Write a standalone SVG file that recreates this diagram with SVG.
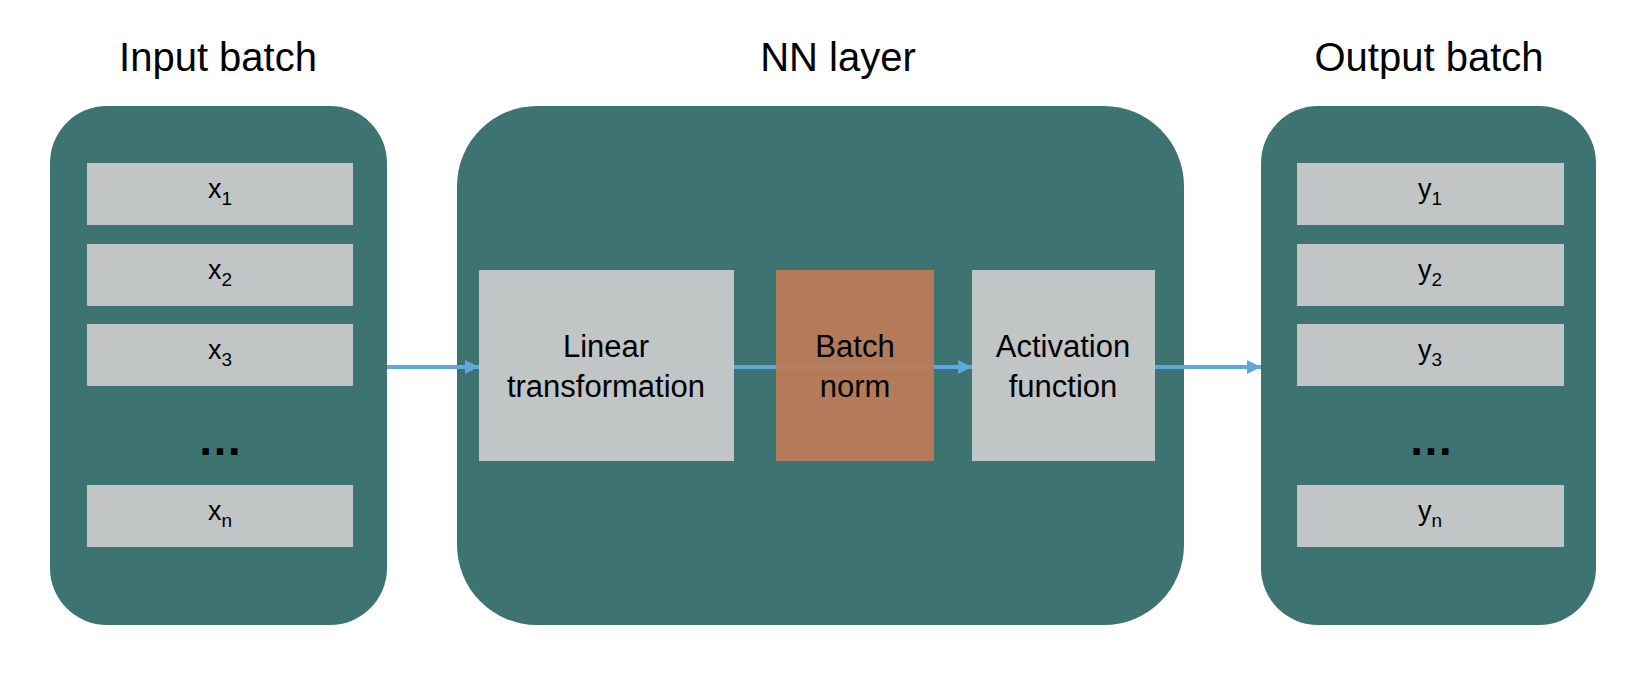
<svg xmlns="http://www.w3.org/2000/svg" width="1646" height="674" viewBox="0 0 1646 674">
<style>
  .panel { fill: #3D7471; }
  .item { fill: #C1C5C6; }
  .bn { fill: #B87C5A; fill-opacity: 0.96; }
  .title { font-family: "Liberation Sans", Arial, sans-serif; font-size: 40px; fill: #000; text-anchor: middle; }
  .lbl { font-family: "Liberation Sans", Arial, sans-serif; font-size: 27px; fill: #000; text-anchor: middle; }
  .sub { font-size: 19px; }
  .box { font-family: "Liberation Sans", Arial, sans-serif; font-size: 31px; fill: #000; text-anchor: middle; }
  .dots { font-family: "Liberation Sans", Arial, sans-serif; font-size: 45px; font-weight: bold; fill: #000; text-anchor: middle; }
  .conn { stroke: #5EA8DD; stroke-width: 4; fill: none; }
</style>
<defs>
  <marker id="ah" markerWidth="14" markerHeight="14" refX="14" refY="7" orient="auto" markerUnits="userSpaceOnUse">
    <path d="M0,0 L14,7 L0,14 Z" fill="#5EA8DD"/>
  </marker>
</defs>
<rect width="1646" height="674" fill="#FFFFFF"/>

<g id="titles">
  <text class="title" x="218" y="71">Input batch</text>
  <text class="title" x="838" y="71">NN layer</text>
  <text class="title" x="1429" y="71">Output batch</text>
</g>

<g id="input-batch">
  <rect class="panel" x="50" y="106" width="337" height="519" rx="57" ry="57"/>
  <g id="x1"><rect class="item" x="87" y="163" width="266" height="62"/><text class="lbl" x="220" y="198">x<tspan class="sub" dy="7">1</tspan></text></g>
  <g id="x2"><rect class="item" x="87" y="244" width="266" height="62"/><text class="lbl" x="220" y="279">x<tspan class="sub" dy="7">2</tspan></text></g>
  <g id="x3"><rect class="item" x="87" y="324" width="266" height="62"/><text class="lbl" x="220" y="359">x<tspan class="sub" dy="7">3</tspan></text></g>
  <text class="dots" x="220" y="455">…</text>
  <g id="xn"><rect class="item" x="87" y="485" width="266" height="62"/><text class="lbl" x="220" y="520">x<tspan class="sub" dy="7">n</tspan></text></g>
</g>

<g id="nn-layer">
  <rect class="panel" x="457" y="106" width="727" height="519" rx="80" ry="80"/>
</g>

<g id="output-batch">
  <rect class="panel" x="1261" y="106" width="335" height="519" rx="57" ry="57"/>
  <g id="y1"><rect class="item" x="1297" y="163" width="267" height="62"/><text class="lbl" x="1430" y="198">y<tspan class="sub" dy="7">1</tspan></text></g>
  <g id="y2"><rect class="item" x="1297" y="244" width="267" height="62"/><text class="lbl" x="1430" y="279">y<tspan class="sub" dy="7">2</tspan></text></g>
  <g id="y3"><rect class="item" x="1297" y="324" width="267" height="62"/><text class="lbl" x="1430" y="359">y<tspan class="sub" dy="7">3</tspan></text></g>
  <text class="dots" x="1431" y="455">…</text>
  <g id="yn"><rect class="item" x="1297" y="485" width="267" height="62"/><text class="lbl" x="1430" y="520">y<tspan class="sub" dy="7">n</tspan></text></g>
</g>

<g id="connectors">
  <line class="conn" x1="387" y1="367" x2="479" y2="367" marker-end="url(#ah)"/>
  <line class="conn" x1="734" y1="367" x2="972" y2="367" marker-end="url(#ah)"/>
  <line class="conn" x1="1155" y1="367" x2="1261" y2="367" marker-end="url(#ah)"/>
</g>

<g id="linear">
  <rect class="item" x="479" y="270" width="255" height="191"/>
  <text class="box" x="606" y="357">Linear</text>
  <text class="box" x="606" y="397">transformation</text>
</g>

<g id="batchnorm">
  <rect class="bn" x="776" y="270" width="158" height="191"/>
  <text class="box" x="855" y="357">Batch</text>
  <text class="box" x="855" y="397">norm</text>
</g>

<g id="activation">
  <rect class="item" x="972" y="270" width="183" height="191"/>
  <text class="box" x="1063" y="357">Activation</text>
  <text class="box" x="1063" y="397">function</text>
</g>
</svg>
